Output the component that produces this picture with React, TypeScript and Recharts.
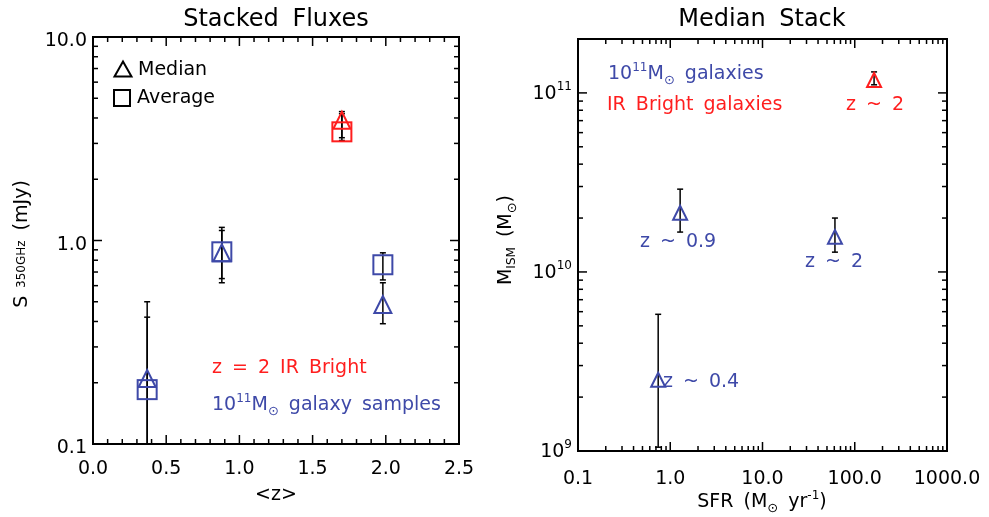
import React from 'react';
import { ScatterChart, Scatter, XAxis, YAxis, ErrorBar, ReferenceArea } from 'recharts';

const FONT = '"DejaVu Sans", sans-serif';
const BLUE = '#3e49a8';
const RED = '#ff1e1e';

// ---- Stacked Fluxes (left) ----
const zBlue = [0.37, 0.88, 1.98];
const fluxMedianBlue = [0.21, 0.87, 0.485];
const fluxMedianBlueLo = [0.1, 0.62, 0.39];
const fluxMedianBlueHi = [0.5, 1.16, 0.62];
const fluxAverageBlue = [0.185, 0.88, 0.76];
const fluxAverageBlueLo = [0.1, 0.65, 0.64];
const fluxAverageBlueHi = [0.42, 1.12, 0.87];

const zRed = [1.7];
const fluxMedianRed = [3.9];
const fluxMedianRedLo = [3.2];
const fluxMedianRedHi = [4.3];
const fluxAverageRed = [3.42];
const fluxAverageRedLo = [3.1];
const fluxAverageRedHi = [4.2];

const zTicks = [0, 0.5, 1, 1.5, 2, 2.5];
const zMinorTicks = [0.1, 0.2, 0.3, 0.4, 0.6, 0.7, 0.8, 0.9, 1.1, 1.2, 1.3, 1.4, 1.6, 1.7, 1.8, 1.9, 2.1, 2.2, 2.3, 2.4];
const fluxTicks = [0.1, 1, 10];
const fluxMinorTicks = [0.2, 0.3, 0.4, 0.5, 0.6, 0.7, 0.8, 0.9, 2, 3, 4, 5, 6, 7, 8, 9];

// ---- Median Stack (right) ----
const sfrBlue = [0.74, 1.28, 61];
const mismBlue = [2.5e9, 2.14e10, 1.57e10];
const mismBlueLo = [1.05e9, 1.67e10, 1.29e10];
const mismBlueHi = [5.8e9, 2.9e10, 2.0e10];

const sfrRed = [162];
const mismRed = [1.18e11];
const mismRedLo = [1.11e11];
const mismRedHi = [1.31e11];

const sfrTicks = [0.1, 1, 10, 100, 1000];
const sfrMinorTicks = [
  0.2, 0.3, 0.4, 0.5, 0.6, 0.7, 0.8, 0.9,
  2, 3, 4, 5, 6, 7, 8, 9,
  20, 30, 40, 50, 60, 70, 80, 90,
  200, 300, 400, 500, 600, 700, 800, 900,
];
const mismTicks = [1e9, 1e10, 1e11];
const mismMinorTicks = [2e9, 3e9, 4e9, 5e9, 6e9, 7e9, 8e9, 9e9, 2e10, 3e10, 4e10, 5e10, 6e10, 7e10, 8e10, 9e10];

const rows = (xs: number[], ys: number[], lo: number[], hi: number[]) =>
  xs.map((x, i) => ({ x, y: ys[i], err: [ys[i] - lo[i], hi[i] - ys[i]] }));

const Tri = ({ cx, cy, w, h, color }: any) => (
  <path
    d={`M${cx - w / 2},${cy + h / 2} L${cx + w / 2},${cy + h / 2} L${cx},${cy - h / 2} Z`}
    fill="none"
    stroke={color}
    strokeWidth={2}
  />
);

const Sq = ({ cx, cy, s, color }: any) => (
  <rect x={cx - s / 2} y={cy - s / 2} width={s} height={s} fill="none" stroke={color} strokeWidth={2} />
);

const XTick = (props: any) => {
  const { x, payload, top, bottom, majors, labelDy, fmt } = props;
  const v = payload.value;
  const major = majors.includes(v);
  const len = major ? 9 : 5;
  return (
    <g>
      <line x1={x} x2={x} y1={bottom} y2={bottom - len} stroke="#000" strokeWidth={1.5} />
      <line x1={x} x2={x} y1={top} y2={top + len} stroke="#000" strokeWidth={1.5} />
      {major && (
        <text x={x} y={bottom + labelDy} textAnchor="middle" fontFamily={FONT} fontSize={19} fill="#000">
          {fmt(v)}
        </text>
      )}
    </g>
  );
};

const YTick = (props: any) => {
  const { y, payload, left, right, majors, power } = props;
  const v = payload.value;
  const major = majors.includes(v);
  const len = major ? 9 : 5;
  return (
    <g>
      <line x1={left} x2={left + len} y1={y} y2={y} stroke="#000" strokeWidth={1.5} />
      <line x1={right} x2={right - len} y1={y} y2={y} stroke="#000" strokeWidth={1.5} />
      {major && !power && (
        <text x={left - 6} y={y + 9} textAnchor="end" fontFamily={FONT} fontSize={19} fill="#000">
          {v.toFixed(1)}
        </text>
      )}
      {major && power && (
        <text x={left - 6} y={y + 6} textAnchor="end" fontFamily={FONT} fontSize={19} fill="#000">
          <tspan>10</tspan>
          <tspan dy={-9} fontSize={12}>{Math.round(Math.log10(v))}</tspan>
        </text>
      )}
    </g>
  );
};

export default function App() {
  const L = { top: 37, bottom: 444, left: 93, right: 459 };
  const R = { top: 39, bottom: 451, left: 88, right: 457 };
  const txt = { fontFamily: FONT, fontSize: 19, wordSpacing: 4 };

  return (
    <div
      style={{
        position: 'absolute',
        left: 0,
        top: 0,
        width: 989,
        height: 517,
        background: '#fff',
        filter: 'drop-shadow(2px 2px 1.5px rgba(0,0,0,0.3))',
      }}
    >
      <div style={{ position: 'absolute', left: 0, top: 0 }}>
        <ScatterChart width={490} height={517} margin={{ top: 37, right: 31, bottom: 33, left: 33 }}>
          <XAxis
            type="number"
            dataKey="x"
            domain={[0, 2.5]}
            allowDataOverflow
            ticks={[...zTicks, ...zMinorTicks]}
            interval={0}
            height={40}
            axisLine={false}
            tickLine={false}
            tick={(p: any) => (
              <XTick {...p} top={L.top} bottom={L.bottom} majors={zTicks} labelDy={30} fmt={(v: number) => v.toFixed(1)} />
            )}
          />
          <YAxis
            type="number"
            dataKey="y"
            scale="log"
            domain={[0.1, 10]}
            allowDataOverflow
            ticks={[...fluxTicks, ...fluxMinorTicks]}
            interval={0}
            width={60}
            axisLine={false}
            tickLine={false}
            tick={(p: any) => <YTick {...p} left={L.left} right={L.right} majors={fluxTicks} />}
          />
          <ReferenceArea x1={0} x2={2.5} y1={0.1} y2={10} fill="none" stroke="#000" strokeWidth={2} />
          <Scatter
            data={rows(zBlue, fluxAverageBlue, fluxAverageBlueLo, fluxAverageBlueHi)}
            isAnimationActive={false}
            shape={(p: any) => <Sq cx={p.cx} cy={p.cy} s={19} color={BLUE} />}
          >
            <ErrorBar dataKey="err" direction="y" width={3} stroke="#000" strokeWidth={1.5} />
          </Scatter>
          <Scatter
            data={rows(zBlue, fluxMedianBlue, fluxMedianBlueLo, fluxMedianBlueHi)}
            isAnimationActive={false}
            shape={(p: any) => <Tri cx={p.cx} cy={p.cy} w={17} h={17} color={BLUE} />}
          >
            <ErrorBar dataKey="err" direction="y" width={3} stroke="#000" strokeWidth={1.5} />
          </Scatter>
          <Scatter
            data={rows(zRed, fluxAverageRed, fluxAverageRedLo, fluxAverageRedHi)}
            isAnimationActive={false}
            shape={(p: any) => <Sq cx={p.cx} cy={p.cy} s={19} color={RED} />}
          >
            <ErrorBar dataKey="err" direction="y" width={3} stroke="#000" strokeWidth={1.5} />
          </Scatter>
          <Scatter
            data={rows(zRed, fluxMedianRed, fluxMedianRedLo, fluxMedianRedHi)}
            isAnimationActive={false}
            shape={(p: any) => <Tri cx={p.cx} cy={p.cy} w={17} h={17} color={RED} />}
          >
            <ErrorBar dataKey="err" direction="y" width={3} stroke="#000" strokeWidth={1.5} />
          </Scatter>
        </ScatterChart>
      </div>

      <div style={{ position: 'absolute', left: 490, top: 0 }}>
        <ScatterChart width={499} height={517} margin={{ top: 39, right: 42, bottom: 26, left: 28 }}>
          <XAxis
            type="number"
            dataKey="x"
            scale="log"
            domain={[0.1, 1000]}
            allowDataOverflow
            ticks={[...sfrTicks, ...sfrMinorTicks]}
            interval={0}
            height={40}
            axisLine={false}
            tickLine={false}
            tick={(p: any) => (
              <XTick {...p} top={R.top} bottom={R.bottom} majors={sfrTicks} labelDy={33} fmt={(v: number) => v.toFixed(1)} />
            )}
          />
          <YAxis
            type="number"
            dataKey="y"
            scale="log"
            domain={[1e9, 2e11]}
            allowDataOverflow
            ticks={[...mismTicks, ...mismMinorTicks]}
            interval={0}
            width={60}
            axisLine={false}
            tickLine={false}
            tick={(p: any) => <YTick {...p} left={R.left} right={R.right} majors={mismTicks} power />}
          />
          <ReferenceArea x1={0.1} x2={1000} y1={1e9} y2={2e11} fill="none" stroke="#000" strokeWidth={2} />
          <Scatter
            data={rows(sfrBlue, mismBlue, mismBlueLo, mismBlueHi)}
            isAnimationActive={false}
            shape={(p: any) => <Tri cx={p.cx} cy={p.cy} w={14} h={14} color={BLUE} />}
          >
            <ErrorBar dataKey="err" direction="y" width={3} stroke="#000" strokeWidth={1.5} />
          </Scatter>
          <Scatter
            data={rows(sfrRed, mismRed, mismRedLo, mismRedHi)}
            isAnimationActive={false}
            shape={(p: any) => <Tri cx={p.cx} cy={p.cy} w={14} h={14} color={RED} />}
          >
            <ErrorBar dataKey="err" direction="y" width={3} stroke="#000" strokeWidth={1.5} />
          </Scatter>
        </ScatterChart>
      </div>

      {/* titles, axis labels, legends, annotations */}
      <svg width={989} height={517} style={{ position: 'absolute', left: 0, top: 0, pointerEvents: 'none' }}>
        <text x={276} y={26} textAnchor="middle" fontFamily={FONT} fontSize={24} wordSpacing={6}>Stacked Fluxes</text>
        <text x={762} y={26} textAnchor="middle" fontFamily={FONT} fontSize={24} wordSpacing={6}>Median Stack</text>

        <text x={276} y={500} textAnchor="middle" {...txt}>&lt;z&gt;</text>
        <text x={762} y={507} textAnchor="middle" {...txt}>
          SFR (M<tspan dy={5} fontSize={13}>⊙</tspan>
          <tspan dy={-5}> yr</tspan>
          <tspan dy={-8} fontSize={12}>-1</tspan>
          <tspan dy={8}>)</tspan>
        </text>

        <text transform="translate(27,244) rotate(-90)" textAnchor="middle" {...txt}>
          S<tspan dy={-2} fontSize={12}> 350GHz</tspan>
          <tspan dy={2}> (mJy)</tspan>
        </text>
        <text transform="translate(511,240) rotate(-90)" textAnchor="middle" {...txt}>
          M<tspan dy={4} fontSize={12}>ISM</tspan>
          <tspan dy={-4}> (M</tspan>
          <tspan dy={5} fontSize={13}>⊙</tspan>
          <tspan dy={-5}>)</tspan>
        </text>

        {/* left legend */}
        <Tri cx={123} cy={69} w={17} h={15} color="#000" />
        <text x={138} y={75} {...txt}>Median</text>
        <Sq cx={122} cy={98} s={16} color="#000" />
        <text x={137} y={103} {...txt}>Average</text>

        <text x={212} y={373} {...txt} fill={RED}>z = 2 IR Bright</text>
        <text x={212} y={410} {...txt} fill={BLUE}>
          10<tspan dy={-8} fontSize={12}>11</tspan>
          <tspan dy={8}>M</tspan>
          <tspan dy={5} fontSize={13}>⊙</tspan>
          <tspan dy={-5}> galaxy samples</tspan>
        </text>

        {/* right annotations */}
        <text x={608} y={79} {...txt} fill={BLUE}>
          10<tspan dy={-8} fontSize={12}>11</tspan>
          <tspan dy={8}>M</tspan>
          <tspan dy={5} fontSize={13}>⊙</tspan>
          <tspan dy={-5}> galaxies</tspan>
        </text>
        <text x={607} y={110} {...txt} fill={RED}>IR Bright galaxies</text>
        <text x={846} y={110} {...txt} fill={RED}>z ~ 2</text>
        <text x={640} y={247} {...txt} fill={BLUE}>z ~ 0.9</text>
        <text x={805} y={267} {...txt} fill={BLUE}>z ~ 2</text>
        <text x={663} y={387} {...txt} fill={BLUE}>z ~ 0.4</text>
      </svg>
    </div>
  );
}
